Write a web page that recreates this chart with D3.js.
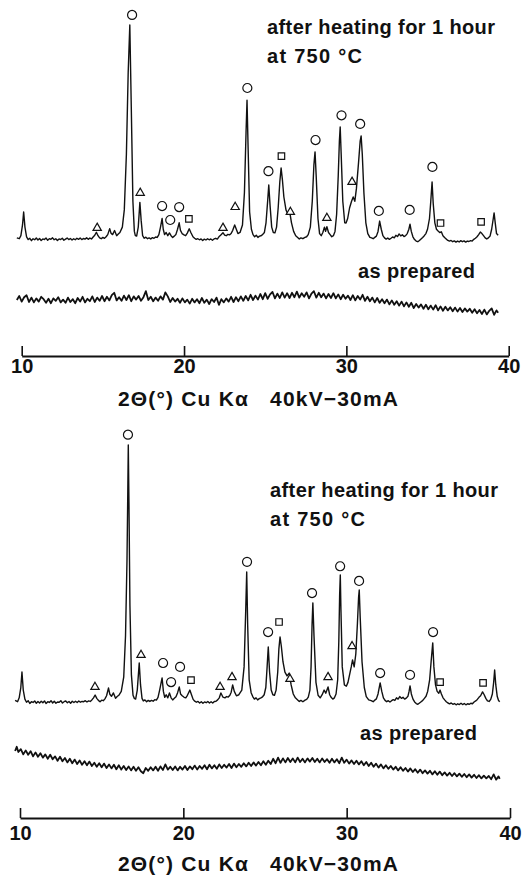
<!DOCTYPE html>
<html>
<head>
<meta charset="utf-8">
<script src="https://cdnjs.cloudflare.com/ajax/libs/d3/7.8.5/d3.min.js"></script>
<style>
  body { margin: 0; background: #fff; }
  svg { display: block; }
  text { font-family: 'Liberation Sans', Arial, Helvetica, sans-serif; fill: #111; font-weight: bold; }
</style>
</head>
<body>
<script>
/* global d3 */

// ---- data (2theta in degrees, intensity in relative units) ----
var thetaTicks = [10, 20, 30, 40];
var headingLines = ['after heating for 1 hour', 'at 750 °C'];
var preparedLabel = 'as prepared';
var axisTitle = '2\u0398(\u00b0) Cu K\u03b1   40kV\u221230mA';

// heated sample, upper chart
var heatedTop = [
  [9.7, 1.0], [9.85, 0.6], [9.95, 2], [10.05, 7], [10.12, 13], [10.2, 6], [10.3, 1.5], [10.4, 0.2], [10.5, 0.8], [10.6, -0.3],
  [10.7, 0.6], [10.8, 0.1], [10.9, 0.9], [11.0, 0.0], [11.1, 0.7], [11.2, -0.2], [11.3, 0.5], [11.4, 0.2], [11.5, 0.9], [11.6, -0.1],
  [11.7, 0.6], [11.8, 0.3], [11.9, 1.0], [12.0, 0.1], [12.1, 0.6], [12.2, -0.2], [12.3, 0.5], [12.4, 0.2], [12.5, 0.8], [12.6, -0.1],
  [12.7, 0.4], [12.8, 0.9], [12.9, 0.2], [13.0, 0.7], [13.1, 0.0], [13.2, 0.6], [13.3, 0.1], [13.4, 0.8], [13.5, 0.3], [13.6, 0.9],
  [13.7, 0.2], [13.8, 0.7], [13.9, 0.4], [14.0, 1.0], [14.1, 0.3], [14.2, 0.9], [14.3, 0.5], [14.4, 1.4], [14.5, 2.2], [14.6, 3.6],
  [14.7, 2.0], [14.8, 1.0], [14.9, 0.6], [15.0, 1.2], [15.1, 0.8], [15.2, 1.5], [15.3, 2.5], [15.42, 5.3], [15.5, 3.2], [15.6, 2.5],
  [15.72, 4.4], [15.85, 2.0], [15.95, 2.8], [16.05, 3.5], [16.2, 6], [16.32, 14], [16.45, 40], [16.56, 78], [16.66, 100], [16.75, 62],
  [16.85, 18], [16.94, 4], [17.0, 2.0], [17.08, 1.8], [17.18, 6], [17.28, 17.5], [17.36, 9], [17.45, 2], [17.55, 0.8], [17.65, 1.3],
  [17.75, 0.6], [17.85, 1.0], [17.95, 0.5], [18.05, 1.1], [18.15, 0.8], [18.25, 1.4], [18.35, 1.2], [18.45, 2.5], [18.55, 6], [18.65, 10],
  [18.72, 5], [18.8, 2.5], [18.9, 3.5], [19.0, 2], [19.1, 3.3], [19.2, 2.0], [19.3, 1.2], [19.4, 1.8], [19.5, 2.6], [19.6, 5],
  [19.7, 8], [19.78, 4.5], [19.88, 3.0], [20.0, 2.4], [20.1, 2.0], [20.2, 3.2], [20.32, 5.2], [20.42, 3.5], [20.55, 1.5], [20.65, 0.8],
  [20.75, 0.3], [20.85, 0.6], [20.95, 0.1], [21.05, 0.5], [21.15, -0.2], [21.25, 0.4], [21.35, 0.0], [21.45, 0.6], [21.55, 0.1], [21.65, 0.5],
  [21.75, -0.1], [21.85, 0.5], [21.95, 0.8], [22.05, 0.4], [22.15, 1.5], [22.25, 2.2], [22.4, 3.4], [22.5, 2.3], [22.6, 2.0], [22.7, 2.6],
  [22.8, 2.4], [22.9, 3.0], [23.0, 4.5], [23.12, 7.0], [23.22, 5.0], [23.32, 3.0], [23.45, 3.5], [23.6, 7], [23.72, 22], [23.82, 50],
  [23.88, 65], [23.95, 42], [24.04, 13], [24.15, 5], [24.25, 2.5], [24.35, 1.5], [24.45, 2.2], [24.55, 1.2], [24.65, 1.8], [24.75, 2.0],
  [24.85, 2.6], [24.95, 3.5], [25.05, 8], [25.15, 18], [25.22, 25.6], [25.3, 16], [25.4, 6], [25.5, 3.5], [25.6, 3.3], [25.7, 6],
  [25.8, 15], [25.9, 27], [25.98, 33.5], [26.06, 28], [26.15, 20], [26.28, 14], [26.4, 12], [26.52, 12.6], [26.62, 8], [26.75, 4],
  [26.88, 2], [27.0, 1.2], [27.1, 0.5], [27.2, 1.0], [27.32, 0.6], [27.45, 1.2], [27.55, 1.5], [27.65, 2.5], [27.78, 6], [27.9, 18],
  [28.0, 35], [28.07, 41], [28.14, 30], [28.25, 10], [28.35, 3], [28.45, 2.0], [28.55, 3.5], [28.65, 6.0], [28.72, 4], [28.8, 6.2],
  [28.9, 3.5], [29.0, 2.5], [29.1, 1.5], [29.2, 2.0], [29.3, 4], [29.4, 12], [29.5, 30], [29.57, 46], [29.62, 52.6], [29.68, 40],
  [29.78, 18], [29.9, 8], [29.98, 7.9], [30.08, 10], [30.2, 15], [30.32, 18], [30.42, 20], [30.52, 18], [30.62, 24], [30.75, 36],
  [30.85, 46], [30.91, 48.4], [30.98, 40], [31.08, 22], [31.2, 8], [31.32, 3], [31.45, 1.2], [31.55, 1.0], [31.65, 0.6], [31.75, 1.2],
  [31.85, 1.8], [31.95, 4], [32.05, 8.8], [32.15, 5], [32.25, 2], [32.35, 1.0], [32.45, 0.4], [32.55, 0.9], [32.65, 0.3], [32.75, 0.8],
  [32.85, 1.4], [32.95, 1.0], [33.05, 2.2], [33.15, 1.6], [33.25, 2.8], [33.35, 1.9], [33.45, 2.4], [33.55, 1.6], [33.65, 2.0], [33.75, 3.0],
  [33.85, 5], [33.92, 7.4], [34.0, 4], [34.1, 1.5], [34.2, 0.2], [34.3, -0.5], [34.4, -0.8], [34.5, -0.2], [34.6, 0.5], [34.7, 1.2],
  [34.8, 2.0], [34.9, 3.0], [35.0, 5], [35.12, 10], [35.2, 18], [35.28, 27], [35.35, 17], [35.45, 8], [35.55, 5], [35.65, 4.2],
  [35.75, 3.5], [35.85, 3.8], [35.95, 2.0], [36.05, 1.2], [36.15, 0.5], [36.25, -0.2], [36.35, -0.5], [36.45, -0.2], [36.55, -0.8], [36.65, -0.4],
  [36.75, -1.0], [36.85, -0.5], [36.95, -0.9], [37.05, -0.3], [37.15, -0.8], [37.25, -0.4], [37.35, -1.0], [37.45, -0.5], [37.55, -0.7], [37.65, -0.3],
  [37.75, -0.5], [37.85, 0.3], [37.95, 0.8], [38.05, 1.5], [38.15, 2.5], [38.25, 3.7], [38.35, 3.0], [38.45, 2.0], [38.55, 1.0], [38.65, 0.5],
  [38.75, 1.0], [38.85, 1.8], [38.95, 5], [39.05, 10], [39.1, 12.6], [39.17, 8], [39.25, 3], [39.35, 2.2]
];

// heated sample, lower chart
var heatedBottom = [
  [9.7, 1.0], [9.85, 0.5], [9.95, 2], [10.05, 6], [10.12, 12], [10.2, 5], [10.3, 1.5], [10.4, 0.3], [10.5, 0.9], [10.6, -0.2],
  [10.7, 0.5], [10.8, 0.2], [10.9, 0.8], [11.0, -0.1], [11.1, 0.6], [11.2, 0.0], [11.3, 0.7], [11.4, 0.1], [11.5, 0.8], [11.6, -0.2],
  [11.7, 0.5], [11.8, 0.2], [11.9, 0.9], [12.0, 0.0], [12.1, 0.7], [12.2, -0.1], [12.3, 0.4], [12.4, 0.3], [12.5, 0.9], [12.6, 0.0],
  [12.7, 0.5], [12.8, 0.8], [12.9, 0.1], [13.0, 0.6], [13.1, -0.1], [13.2, 0.7], [13.3, 0.2], [13.4, 0.7], [13.5, 0.2], [13.6, 0.8],
  [13.7, 0.3], [13.8, 0.6], [13.9, 0.5], [14.0, 0.9], [14.1, 0.4], [14.2, 0.8], [14.3, 0.6], [14.4, 1.2], [14.5, 2.0], [14.6, 3.1],
  [14.7, 1.8], [14.8, 1.0], [14.9, 0.5], [15.0, 1.1], [15.1, 0.9], [15.2, 1.6], [15.3, 2.8], [15.42, 5.8], [15.5, 3.4], [15.6, 2.6],
  [15.72, 3.9], [15.85, 1.8], [15.95, 2.5], [16.05, 3], [16.2, 4.5], [16.35, 10], [16.46, 26], [16.55, 55], [16.6, 82], [16.63, 100],
  [16.67, 78], [16.73, 38], [16.82, 11], [16.92, 3], [17.0, 1.8], [17.08, 1.5], [17.18, 5], [17.3, 15.5], [17.38, 7], [17.47, 1.8],
  [17.55, 0.8], [17.65, 1.2], [17.75, 0.5], [17.85, 1.0], [17.95, 0.6], [18.05, 1.0], [18.15, 0.7], [18.25, 1.3], [18.35, 1.1], [18.45, 2.2],
  [18.55, 5], [18.7, 9.7], [18.78, 4.5], [18.86, 2.2], [18.95, 3.2], [19.05, 2], [19.15, 3.9], [19.25, 2], [19.35, 1.2], [19.45, 1.8],
  [19.55, 2.4], [19.65, 4], [19.75, 6.2], [19.83, 3.5], [19.93, 2.8], [20.05, 2.2], [20.15, 2.0], [20.25, 3.0], [20.4, 5.0], [20.5, 3.2],
  [20.6, 1.4], [20.7, 0.7], [20.8, 0.3], [20.9, 0.6], [21.0, 0.0], [21.1, 0.5], [21.2, -0.1], [21.3, 0.4], [21.4, 0.1], [21.5, 0.6],
  [21.6, 0.0], [21.7, 0.5], [21.8, 0.0], [21.9, 0.6], [22.0, 0.7], [22.1, 1.2], [22.2, 2.0], [22.3, 3.9], [22.42, 2.3], [22.55, 2.0],
  [22.65, 2.5], [22.75, 2.3], [22.85, 3.0], [22.93, 4.2], [23.02, 7.0], [23.12, 4.5], [23.25, 2.8], [23.4, 3.2], [23.58, 5], [23.72, 14],
  [23.82, 36], [23.88, 50.8], [23.94, 30], [24.03, 9], [24.15, 4], [24.25, 2.5], [24.35, 1.5], [24.45, 2.0], [24.55, 1.2], [24.65, 1.7],
  [24.75, 2.0], [24.85, 2.4], [24.95, 3.2], [25.05, 6], [25.13, 14], [25.2, 21.7], [25.28, 12], [25.38, 5], [25.48, 3.2], [25.58, 3.0],
  [25.68, 5], [25.78, 12], [25.85, 21], [25.92, 25.6], [26.0, 22], [26.1, 16], [26.22, 12], [26.35, 10.5], [26.48, 11.6], [26.6, 7],
  [26.73, 3.5], [26.86, 2], [27.0, 1.2], [27.1, 0.6], [27.2, 1.0], [27.32, 0.5], [27.45, 1.1], [27.55, 1.4], [27.65, 2.3], [27.75, 5],
  [27.82, 14], [27.88, 30], [27.93, 38.8], [28.0, 26], [28.12, 8], [28.25, 3], [28.38, 2], [28.5, 3.2], [28.62, 5.0], [28.72, 3.8],
  [28.86, 6.2], [28.96, 3.2], [29.05, 2.2], [29.15, 1.5], [29.25, 2.0], [29.35, 3.5], [29.45, 9], [29.52, 24], [29.57, 42], [29.61, 49.6],
  [29.65, 36], [29.73, 14], [29.86, 7], [29.98, 6.5], [30.08, 8], [30.18, 11], [30.28, 14], [30.36, 16.7], [30.46, 14], [30.56, 19],
  [30.66, 31], [30.73, 41], [30.77, 43.8], [30.83, 33], [30.94, 16], [31.08, 6], [31.2, 2.5], [31.35, 1.2], [31.5, 0.9], [31.62, 0.5],
  [31.72, 1.1], [31.82, 1.6], [31.92, 3.5], [32.05, 7.8], [32.15, 4.5], [32.25, 2], [32.35, 1.0], [32.45, 0.5], [32.55, 0.9], [32.65, 0.4],
  [32.75, 0.9], [32.85, 1.3], [32.95, 1.0], [33.05, 2.0], [33.15, 1.5], [33.25, 2.5], [33.35, 1.8], [33.45, 2.2], [33.55, 1.5], [33.65, 1.9],
  [33.75, 2.6], [33.82, 4.5], [33.88, 6.6], [33.96, 3.5], [34.06, 1.5], [34.16, 0.4], [34.26, -0.2], [34.36, -0.5], [34.46, 0.0], [34.56, 0.5],
  [34.66, 1.0], [34.76, 1.8], [34.86, 2.6], [34.96, 4.5], [35.08, 9], [35.17, 16], [35.27, 23.3], [35.34, 14], [35.44, 7], [35.54, 4.5],
  [35.64, 3.8], [35.72, 5.0], [35.8, 3.5], [35.9, 2.0], [36.0, 1.2], [36.1, 0.5], [36.2, 0.0], [36.3, -0.3], [36.4, 0.0], [36.5, -0.5],
  [36.6, -0.2], [36.7, -0.7], [36.8, -0.3], [36.9, -0.6], [37.0, -0.1], [37.1, -0.6], [37.2, -0.2], [37.3, -0.7], [37.4, -0.3], [37.5, -0.5],
  [37.6, -0.1], [37.7, -0.3], [37.8, 0.4], [37.9, 0.8], [38.0, 1.4], [38.1, 2.2], [38.2, 2.8], [38.32, 4.3], [38.42, 3.2], [38.52, 1.8],
  [38.62, 0.8], [38.72, 0.6], [38.82, 1.4], [38.92, 3.5], [39.0, 8], [39.06, 12.8], [39.13, 7], [39.22, 2.5], [39.3, 1.0], [39.37, 0.5]
];

// unheated ("as prepared") sample
var preparedTop = [
  [9.7, 9.0], [9.85, 11.0], [10.0, 8.2], [10.15, 10.4], [10.3, 11.4], [10.45, 8.0], [10.6, 10.2], [10.75, 7.8], [10.9, 9.8], [11.05, 8.2],
  [11.2, 10.6], [11.35, 9.4], [11.5, 7.6], [11.65, 9.6], [11.8, 7.4], [11.95, 9.8], [12.1, 8.6], [12.25, 10.4], [12.4, 7.8], [12.55, 9.2],
  [12.7, 7.6], [12.85, 10.2], [13.0, 8.0], [13.15, 9.4], [13.3, 7.4], [13.45, 10.0], [13.6, 8.2], [13.75, 10.6], [13.9, 7.8], [14.05, 9.6],
  [14.2, 8.4], [14.35, 10.8], [14.5, 8.0], [14.65, 10.2], [14.8, 8.6], [14.95, 11.0], [15.1, 8.4], [15.25, 10.6], [15.4, 8.8], [15.55, 11.4],
  [15.7, 12.6], [15.85, 8.8], [16.0, 10.4], [16.15, 8.6], [16.3, 11.2], [16.45, 9.0], [16.6, 11.4], [16.75, 8.4], [16.9, 10.8], [17.05, 9.2],
  [17.2, 11.0], [17.35, 8.6], [17.5, 10.4], [17.65, 13.4], [17.8, 9.0], [17.95, 10.6], [18.1, 8.4], [18.25, 10.2], [18.4, 8.6], [18.55, 10.8],
  [18.7, 9.2], [18.85, 12.8], [19.0, 10.8], [19.15, 8.0], [19.3, 10.0], [19.45, 8.2], [19.6, 9.6], [19.75, 7.6], [19.9, 9.8], [20.05, 7.8],
  [20.2, 9.2], [20.35, 7.2], [20.5, 9.6], [20.65, 7.8], [20.8, 9.4], [20.95, 7.4], [21.1, 10.0], [21.25, 7.6], [21.4, 9.2], [21.55, 7.0],
  [21.7, 9.4], [21.85, 8.0], [22.0, 10.2], [22.15, 6.6], [22.3, 9.4], [22.45, 7.8], [22.6, 9.8], [22.75, 8.2], [22.9, 10.6], [23.05, 8.0],
  [23.2, 10.4], [23.35, 8.4], [23.5, 10.8], [23.65, 8.6], [23.8, 11.0], [23.95, 8.8], [24.1, 11.6], [24.25, 9.0], [24.4, 11.2], [24.55, 9.2],
  [24.7, 12.0], [24.85, 9.4], [25.0, 12.4], [25.15, 9.6], [25.3, 11.8], [25.45, 13.0], [25.6, 9.8], [25.75, 12.2], [25.9, 10.0], [26.05, 12.8],
  [26.2, 10.2], [26.35, 12.4], [26.5, 10.0], [26.65, 12.6], [26.8, 10.4], [26.95, 13.2], [27.1, 10.2], [27.25, 12.4], [27.4, 10.6], [27.55, 12.8],
  [27.7, 9.8], [27.85, 12.2], [28.0, 13.4], [28.15, 10.2], [28.3, 12.6], [28.45, 10.4], [28.6, 12.2], [28.75, 9.8], [28.9, 12.0], [29.05, 10.0],
  [29.2, 12.4], [29.35, 9.8], [29.5, 11.8], [29.65, 9.4], [29.8, 11.6], [29.95, 9.6], [30.1, 11.2], [30.25, 9.0], [30.4, 11.4], [30.55, 8.8],
  [30.7, 11.0], [30.85, 9.2], [31.0, 11.6], [31.15, 8.6], [31.3, 10.6], [31.45, 8.4], [31.6, 10.2], [31.75, 7.8], [31.9, 10.0], [32.05, 7.6],
  [32.2, 9.4], [32.35, 7.4], [32.5, 9.2], [32.65, 6.8], [32.8, 8.8], [32.95, 6.6], [33.1, 8.4], [33.25, 6.2], [33.4, 8.2], [33.55, 5.8],
  [33.7, 7.8], [33.85, 5.6], [34.0, 7.6], [34.15, 5.0], [34.3, 7.0], [34.45, 5.2], [34.6, 6.8], [34.75, 4.6], [34.9, 6.6], [35.05, 4.4],
  [35.2, 6.2], [35.35, 4.2], [35.5, 6.4], [35.65, 3.8], [35.8, 5.8], [35.95, 3.6], [36.1, 5.6], [36.25, 3.8], [36.4, 5.4], [36.55, 3.4],
  [36.7, 5.2], [36.85, 3.2], [37.0, 5.0], [37.15, 3.0], [37.3, 4.8], [37.45, 3.2], [37.6, 4.6], [37.75, 2.6], [37.9, 4.4], [38.05, 2.4],
  [38.2, 4.0], [38.35, 2.0], [38.5, 4.2], [38.65, 1.8], [38.8, 3.6], [38.95, 4.8], [39.1, 1.6], [39.25, 3.8], [39.35, 2.6]
];

var preparedBottom = [
  [9.7, 19.5], [9.8, 21.6], [9.9, 19.0], [10.05, 20.4], [10.2, 17.8], [10.35, 19.8], [10.5, 17.6], [10.65, 19.4], [10.8, 16.8], [10.95, 18.8],
  [11.1, 16.6], [11.25, 18.4], [11.4, 16.2], [11.55, 17.8], [11.7, 15.6], [11.85, 17.6], [12.0, 15.4], [12.15, 16.8], [12.3, 14.6], [12.45, 16.6],
  [12.6, 14.4], [12.75, 16.0], [12.9, 13.8], [13.05, 15.6], [13.2, 13.4], [13.35, 15.2], [13.5, 13.0], [13.65, 14.8], [13.8, 12.6], [13.95, 14.4],
  [14.1, 12.4], [14.25, 14.2], [14.4, 12.0], [14.55, 13.6], [14.7, 11.6], [14.85, 13.4], [15.0, 11.4], [15.15, 13.2], [15.3, 11.0], [15.45, 12.8],
  [15.6, 10.8], [15.75, 12.6], [15.9, 10.4], [16.05, 12.4], [16.2, 10.2], [16.35, 12.0], [16.5, 10.0], [16.65, 11.8], [16.8, 9.8], [16.95, 11.6],
  [17.1, 9.6], [17.25, 11.4], [17.4, 9.4], [17.55, 8.4], [17.7, 11.0], [17.85, 9.6], [18.0, 11.4], [18.15, 9.8], [18.3, 11.6], [18.45, 9.6],
  [18.6, 11.8], [18.75, 10.0], [18.9, 12.8], [19.05, 10.2], [19.2, 11.6], [19.35, 10.0], [19.5, 11.8], [19.65, 9.8], [19.8, 11.6], [19.95, 10.2],
  [20.1, 12.0], [20.25, 10.0], [20.4, 11.8], [20.55, 10.4], [20.7, 12.2], [20.85, 10.2], [21.0, 12.0], [21.15, 10.6], [21.3, 12.4], [21.45, 10.4],
  [21.6, 12.6], [21.75, 10.8], [21.9, 12.4], [22.05, 10.6], [22.2, 12.8], [22.35, 11.0], [22.5, 12.6], [22.65, 11.2], [22.8, 13.0], [22.95, 11.0],
  [23.1, 13.2], [23.25, 11.4], [23.4, 13.0], [23.55, 11.6], [23.7, 13.4], [23.85, 11.8], [24.0, 13.6], [24.15, 12.0], [24.3, 13.8], [24.45, 12.2],
  [24.6, 14.0], [24.75, 12.4], [24.9, 14.4], [25.05, 12.6], [25.2, 14.6], [25.35, 13.0], [25.5, 15.6], [25.65, 13.4], [25.8, 16.2], [25.95, 13.6],
  [26.1, 15.8], [26.25, 13.8], [26.4, 16.0], [26.55, 14.0], [26.7, 15.8], [26.85, 13.8], [27.0, 16.2], [27.15, 14.0], [27.3, 15.6], [27.45, 13.8],
  [27.6, 15.8], [27.75, 14.2], [27.9, 16.0], [28.05, 14.0], [28.2, 15.6], [28.35, 13.8], [28.5, 15.8], [28.65, 14.0], [28.8, 15.4], [28.95, 13.6],
  [29.1, 15.6], [29.25, 13.8], [29.4, 15.4], [29.55, 13.4], [29.7, 16.2], [29.85, 13.6], [30.0, 15.2], [30.15, 13.2], [30.3, 14.8], [30.45, 13.0],
  [30.6, 14.6], [30.75, 12.8], [30.9, 14.4], [31.05, 12.4], [31.2, 14.0], [31.35, 12.0], [31.5, 13.6], [31.65, 11.6], [31.8, 13.2], [31.95, 11.2],
  [32.1, 12.8], [32.25, 10.8], [32.4, 12.4], [32.55, 10.6], [32.7, 12.0], [32.85, 10.2], [33.0, 11.6], [33.15, 9.8], [33.3, 11.4], [33.45, 9.6],
  [33.6, 11.0], [33.75, 9.2], [33.9, 10.8], [34.05, 9.0], [34.2, 10.4], [34.35, 8.6], [34.5, 10.2], [34.65, 8.4], [34.8, 9.8], [34.95, 8.2],
  [35.1, 9.6], [35.25, 7.8], [35.4, 9.4], [35.55, 7.6], [35.7, 9.2], [35.85, 7.4], [36.0, 8.8], [36.15, 7.2], [36.3, 8.6], [36.45, 7.0],
  [36.6, 8.4], [36.75, 6.8], [36.9, 8.2], [37.05, 6.6], [37.2, 8.0], [37.35, 6.4], [37.5, 7.8], [37.65, 6.2], [37.8, 7.6], [37.95, 6.0],
  [38.1, 7.4], [38.25, 5.8], [38.4, 7.2], [38.55, 5.8], [38.7, 7.0], [38.85, 5.4], [39.0, 7.8], [39.15, 5.2], [39.3, 6.8], [39.37, 5.6]
];

// phase markers: [2theta, height of symbol, phase] o = circle, t = triangle, s = square
var markersTop = [
  [14.65, 5.6, 't'], [16.8, 104.7, 'o'], [17.3, 21.9, 't'], [18.65, 15.8, 'o'], [19.15, 9.3, 'o'], [19.7, 15.3, 'o'],
  [20.3, 9.8, 's'], [22.4, 5.6, 't'], [23.15, 15.3, 't'], [23.9, 70.7, 'o'], [25.2, 32, 'o'], [26.0, 39, 's'],
  [26.55, 13, 't'], [28.1, 46.5, 'o'], [28.8, 10.2, 't'], [29.7, 58, 'o'], [30.35, 27, 't'], [30.85, 54, 'o'],
  [32.0, 13.5, 'o'], [33.9, 14, 'o'], [35.3, 34, 'o'], [35.8, 7.9, 's'], [38.3, 8.4, 's']
];
var markersBottom = [
  [14.59, 6.2, 't'], [16.61, 104, 'o'], [17.41, 18.6, 't'], [18.76, 15.5, 'o'], [19.25, 8.1, 'o'], [19.8, 14, 'o'],
  [20.47, 8.9, 's'], [22.25, 6.2, 't'], [22.98, 10, 't'], [23.9, 54.7, 'o'], [25.19, 27.5, 'o'], [25.86, 31.4, 's'],
  [26.53, 9.3, 't'], [27.88, 42.6, 'o'], [28.86, 10, 't'], [29.6, 53, 'o'], [30.33, 22, 't'], [30.76, 47.3, 'o'],
  [32.05, 11.6, 'o'], [33.88, 10.9, 'o'], [35.29, 27.5, 'o'], [35.72, 8.1, 's'], [38.35, 7.8, 's']
];

// ---- layout ----
var w = 526,
    h = 876;

var panels = [
  { heated: heatedTop, prepared: preparedTop, markers: markersTop,
    x0: 21.7, x1: 508.7, heatBase: 240, heatTop: 25, prepBase: 318, prepTop: 278,
    axisY: 356, tickPad: 3, headX: 267, headY: 34, prepX: 358, prepY: 278, titleY: 406 },
  { heated: heatedBottom, prepared: preparedBottom, markers: markersBottom,
    x0: 20, x1: 510, heatBase: 703, heatTop: 445, prepBase: 790, prepTop: 750,
    axisY: 818, tickPad: 8, headX: 270, headY: 497, prepX: 360, prepY: 740, titleY: 871 }
];

// target widths of the lettering
var headingWidths = [228, 95],
    preparedWidth = 117,
    titleX = 118,
    titleWidth = 280;

var symbolType = { o: d3.symbolCircle, t: d3.symbolTriangle, s: d3.symbolSquare };
var symbolSize = { o: 64, t: 30, s: 42 };

var svg = d3.select('body').append('svg')
  .attr('width', w)
  .attr('height', h);

panels.forEach(function(p) {
  var x = d3.scaleLinear().domain([10, 40]).range([p.x0, p.x1]);
  var yHeat = d3.scaleLinear().domain([0, 100]).range([p.heatBase, p.heatTop]);
  var yPrep = d3.scaleLinear().domain([0, 20]).range([p.prepBase, p.prepTop]);

  var g = svg.append('g');

  g.append('path')
    .datum(p.heated)
    .attr('fill', 'none')
    .attr('stroke', '#111')
    .attr('stroke-width', 1.4)
    .attr('stroke-linejoin', 'round')
    .attr('d', d3.line()
      .x(function(d) { return x(d[0]); })
      .y(function(d) { return yHeat(d[1]); }));

  g.append('path')
    .datum(p.prepared)
    .attr('fill', 'none')
    .attr('stroke', '#111')
    .attr('stroke-width', 1.8)
    .attr('stroke-linejoin', 'round')
    .attr('d', d3.line()
      .x(function(d) { return x(d[0]); })
      .y(function(d) { return yPrep(d[1]); }));

  // phase markers
  g.selectAll('.marker')
    .data(p.markers)
    .enter()
    .append('path')
      .attr('class', 'marker')
      .attr('transform', function(d) { return 'translate(' + x(d[0]) + ',' + yHeat(d[1]) + ')'; })
      .attr('d', function(d) { return d3.symbol().type(symbolType[d[2]]).size(symbolSize[d[2]])(); })
      .attr('fill', '#fff')
      .attr('stroke', '#111')
      .attr('stroke-width', 1.2);

  // 2theta axis, ticks pointing up
  var axis = g.append('g')
    .attr('transform', 'translate(0,' + p.axisY + ')')
    .call(d3.axisBottom(x)
      .tickValues(thetaTicks)
      .tickSizeInner(-10)
      .tickSizeOuter(0)
      .tickPadding(p.tickPad));
  axis.select('.domain').attr('stroke', '#111').attr('stroke-width', 1.8);
  axis.selectAll('.tick line').attr('stroke', '#111').attr('stroke-width', 1.6);
  axis.selectAll('.tick text')
    .attr('fill', '#111')
    .style('font-family', "'Liberation Sans', Arial, Helvetica, sans-serif")
    .style('font-weight', 'bold')
    .style('font-size', '20px');

  g.selectAll('.heading')
    .data(headingLines)
    .enter()
    .append('text')
      .text(function(d) { return d; })
      .attr('x', p.headX)
      .attr('y', function(d, i) { return p.headY + i * 29; })
      .attr('textLength', function(d, i) { return headingWidths[i]; })
      .attr('lengthAdjust', 'spacing')
      .style('font-size', '20px');

  g.append('text')
    .text(preparedLabel)
    .attr('x', p.prepX)
    .attr('y', p.prepY)
    .attr('textLength', preparedWidth)
    .attr('lengthAdjust', 'spacing')
    .style('font-size', '20px');

  g.append('text')
    .text(axisTitle)
    .attr('x', titleX)
    .attr('y', p.titleY)
    .attr('textLength', titleWidth)
    .attr('lengthAdjust', 'spacing')
    .style('white-space', 'pre')
    .style('font-size', '21px');
});
</script>
</body>
</html>
